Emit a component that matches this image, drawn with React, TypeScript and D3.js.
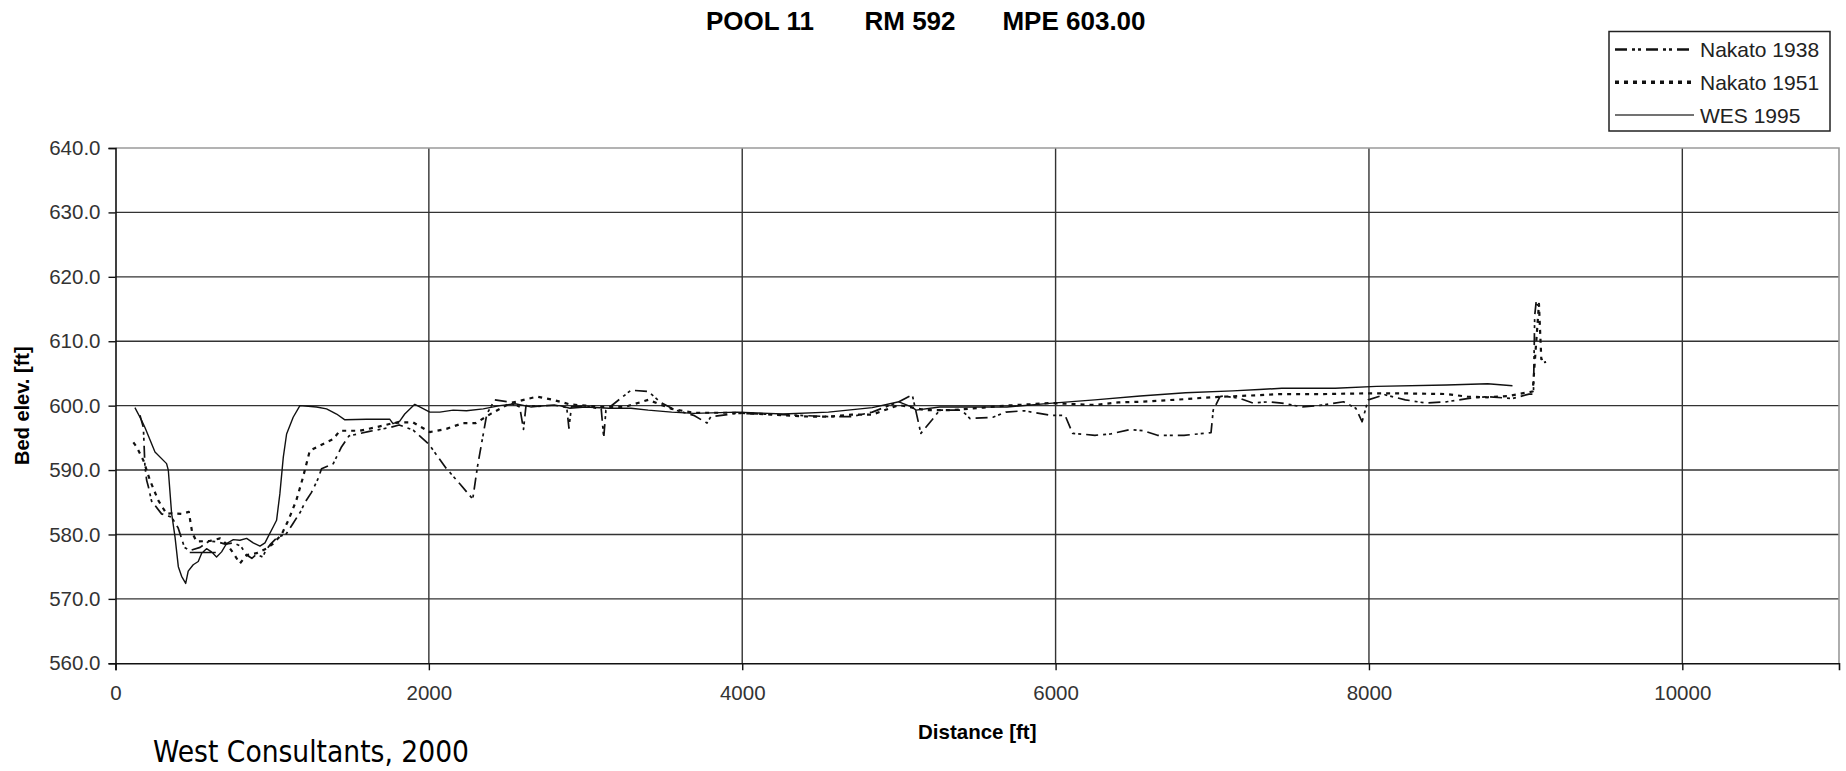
import React, { useEffect, useRef } from "react";
import * as d3 from "d3";

// distance [ft], bed elevation [ft]
const nakato1938: ([number, number] | null)[] = [
  [156, 598.5], [178, 596.6], [188, 590.5], [199, 588.4], [209, 587.5], [230, 585.2], [294, 583.2],
  [358, 582.7], [400, 581.0], [440, 578.0], [475, 577.5], [540, 578.0], [600, 579.0], [660, 578.8],
  [700, 578.5], [750, 578.7], [800, 578.2], [837, 576.8], [870, 576.3], [900, 576.9], [940, 576.5],
  [960, 577.6], [990, 578.5], [1030, 579.5], [1090, 580.1], [1130, 581.6], [1180, 583.5], [1210, 585.0],
  [1250, 586.5], [1290, 588.5], [1315, 590.2], [1390, 591.0], [1440, 593.5], [1490, 595.3], [1620, 596.0],
  [1750, 596.6], [1810, 597.0], [1900, 596.2], [2000, 594.0], [2110, 590.3], [2200, 587.8], [2280, 585.5],
  [2310, 590.5], [2370, 598.7], [2420, 600.9], [2500, 600.6], [2580, 599.8], [2604, 596.3], [2620, 600.0],
  [2700, 599.9], [2800, 600.1], [2880, 599.7], [2894, 596.5], [2910, 599.8], [3000, 599.9], [3100, 599.5],
  [3116, 595.0], [3130, 599.3], [3290, 602.4], [3400, 602.2], [3480, 600.5], [3575, 599.3], [3690, 598.5],
  [3775, 597.3], [3800, 598.3], [3970, 598.8], [4260, 598.6], [4550, 598.3], [4700, 598.3], [4830, 599.0],
  [5000, 600.6], [5085, 601.7], [5140, 595.7], [5212, 597.8], [5260, 599.3], [5400, 599.3], [5454, 598.0],
  [5600, 598.2], [5682, 599.0], [5800, 599.2], [5966, 598.5], [6060, 598.5], [6109, 595.7], [6251, 595.4],
  [6350, 595.6], [6479, 596.3], [6560, 596.1], [6650, 595.4], [6820, 595.4], [6992, 595.8], [7006, 599.3],
  [7049, 601.4], [7075, 601.5], [7180, 601.1], [7259, 600.4], [7364, 600.6], [7443, 600.4], [7575, 599.8],
  [7706, 600.1], [7838, 600.6], [7916, 599.6], [7956, 597.5], [7995, 600.9], [8100, 601.7], [8232, 600.9],
  [8364, 600.4], [8495, 600.6], [8627, 601.1], [8758, 601.4], [8916, 601.1], [9021, 601.8], [9050, 601.8],
  [9058, 614.0], [9068, 616.3], [9078, 615.5],
];

const nakato1951: ([number, number] | null)[] = [
  [114, 594.3], [135, 593.6], [178, 591.5], [220, 588.4], [273, 585.3], [326, 583.2], [360, 583.3],
  [420, 583.2], [468, 583.5], [490, 580.2], [518, 578.9], [603, 579.0], [667, 579.4], [710, 578.5],
  [752, 577.1], [794, 575.5], [837, 576.8], [901, 577.1], [964, 577.8], [1007, 578.6], [1060, 580.0],
  [1103, 582.2], [1154, 585.3], [1197, 588.9], [1240, 593.0], [1304, 593.8], [1389, 594.8], [1432, 596.1],
  [1559, 596.1], [1708, 596.9], [1771, 597.3], [1835, 597.4], [1899, 597.4], [2006, 595.9], [2112, 596.4],
  [2219, 597.3], [2300, 597.3], [2400, 598.8], [2520, 600.4], [2690, 601.4], [2793, 600.9], [2900, 600.2],
  [3000, 600.0], [3100, 599.8], [3250, 599.8], [3400, 600.9], [3550, 599.5], [3690, 598.9], [3970, 598.9],
  [4260, 598.5], [4430, 598.3], [4550, 598.3], [4700, 598.6], [4830, 598.6], [5000, 600.1], [5170, 599.3],
  [5340, 599.3], [5540, 599.7], [5680, 600.0], [5970, 600.4], [6250, 600.1], [6400, 600.5], [6540, 600.6],
  [6820, 601.0], [6990, 601.3], [7180, 601.5], [7443, 601.8], [7700, 601.8], [7970, 601.9], [8230, 601.9],
  [8495, 601.8], [8627, 601.4], [8758, 601.3], [8890, 601.5], [9000, 602.0], [9045, 602.2], [9085, 615.8],
  [9100, 607.2], [9118, 607.4], [9125, 606.6],
];

const wes1995: ([number, number] | null)[] = [
  [124, 599.7], [167, 597.7], [188, 596.6], [252, 592.8], [326, 591.0], [337, 590.0], [358, 583.3],
  [380, 579.6], [401, 575.0], [422, 573.5], [448, 572.4], [464, 574.3], [496, 575.3], [528, 575.8],
  [550, 577.1], [581, 577.8], [613, 577.3], [645, 576.5], [677, 577.3], [709, 578.6], [752, 579.2],
  [794, 579.1], [837, 579.4], [879, 578.7], [922, 578.2], [954, 578.7], [975, 579.7], [1007, 581.2],
  [1028, 582.2], [1049, 586.3], [1071, 592.0], [1092, 595.6], [1134, 598.2], [1177, 600.0], [1283, 599.8],
  [1347, 599.5], [1411, 598.7], [1464, 597.8], [1602, 597.9], [1750, 597.9], [1771, 597.2], [1814, 597.6],
  [1846, 598.7], [1910, 600.2], [1942, 599.8], [2006, 599.0], [2070, 599.0], [2155, 599.3], [2240, 599.2],
  [2347, 599.5], [2453, 600.0], [2550, 600.3], [2650, 599.8], [2750, 600.0], [2835, 600.0], [2900, 599.6],
  [3000, 599.8], [3150, 599.6], [3290, 599.6], [3400, 599.3], [3550, 599.0], [3690, 598.8], [3970, 599.0],
  [4260, 598.7], [4550, 599.0], [4830, 599.7], [5000, 600.6], [5080, 599.8], [5110, 599.3], [5260, 599.8],
  [5690, 599.8], [5980, 600.4], [6250, 600.9], [6540, 601.5], [6830, 602.0], [7130, 602.3], [7300, 602.5],
  [7443, 602.7], [7785, 602.7], [8048, 603.0], [8495, 603.2], [8758, 603.4], [8916, 603.1],
  null, [474, 577.2], [640, 577.2],
];

const seriesNames = ["Nakato 1938", "Nakato 1951", "WES 1995"];
const titleParts = ["POOL 11", "RM 592", "MPE 603.00"];
const xTicks = [0, 2000, 4000, 6000, 8000, 10000];
const yTicks = [560, 570, 580, 590, 600, 610, 620, 630, 640];

const lineStyle: Record<string, { dash: string; width: number; legendWidth: number }> = {
  "Nakato 1938": { dash: "12,5,3,3,3,5", width: 1.7, legendWidth: 2.6 },
  "Nakato 1951": { dash: "4,5", width: 2.2, legendWidth: 3.5 },
  "WES 1995": { dash: "none", width: 1.4, legendWidth: 1.6 },
};

const W = 1846;
const H = 771;
const plot = { left: 115.5, right: 1839, top: 148, bottom: 663.3 };

const App = () => {
  const ref = useRef<SVGSVGElement>(null);

  useEffect(() => {
    const svg = d3.select(ref.current);
    svg.selectAll("*").remove();

    const font = "'Liberation Sans', Arial, sans-serif";

    const xscale = d3.scaleLinear().domain([0, 11000]).range([plot.left, plot.right]);
    const yscale = d3.scaleLinear().domain([560, 640]).range([plot.bottom, plot.top]);

    svg.append("rect").attr("width", W).attr("height", H).attr("fill", "#fff");

    // title, three centred pieces
    const titleCenter: Record<string, number> = { "POOL 11": 760, "RM 592": 910, "MPE 603.00": 1074 };
    svg.selectAll("text.title")
      .data(titleParts)
      .join("text")
      .attr("class", "title")
      .attr("x", (d) => titleCenter[d])
      .attr("y", 30)
      .attr("text-anchor", "middle")
      .attr("font-family", font)
      .attr("font-weight", "bold")
      .attr("font-size", 26)
      .text((d) => d);

    // grid
    const g = svg.append("g");
    g.selectAll("line.hgrid")
      .data(yTicks.filter((t) => t > 560 && t < 640))
      .join("line")
      .attr("x1", plot.left).attr("x2", plot.right)
      .attr("y1", (d) => yscale(d)).attr("y2", (d) => yscale(d))
      .attr("stroke", "#333").attr("stroke-width", 1.4);
    g.selectAll("line.vgrid")
      .data(xTicks.filter((t) => t > 0))
      .join("line")
      .attr("y1", plot.top).attr("y2", plot.bottom)
      .attr("x1", (d) => xscale(d)).attr("x2", (d) => xscale(d))
      .attr("stroke", "#333").attr("stroke-width", 1.4);

    // plot frame: top and right lighter
    g.append("path")
      .attr("d", `M${plot.left},${plot.top}H${plot.right}V${plot.bottom}`)
      .attr("fill", "none").attr("stroke", "#9a9a9a").attr("stroke-width", 1.6);

    // axes
    const yaxis = d3.axisLeft(yscale).tickValues(yTicks).tickSize(7).tickFormat(d3.format(".1f"));
    const g_yaxis = svg.append("g").attr("transform", `translate(${plot.left},0)`).call(yaxis);
    const xaxis = d3.axisBottom(xscale).tickValues(xTicks).tickSize(7).tickFormat(d3.format("d"));
    const g_xaxis = svg.append("g").attr("transform", `translate(0,${plot.bottom})`).call(xaxis);
    [g_yaxis, g_xaxis].forEach((ax) => {
      ax.select(".domain").attr("stroke", "#111").attr("stroke-width", 1.6);
      ax.selectAll(".tick line").attr("stroke", "#111").attr("stroke-width", 1.4);
      ax.selectAll(".tick text")
        .attr("font-family", font)
        .attr("font-size", 20.5)
        .attr("fill", "#333");
    });
    g_yaxis.selectAll(".tick text").attr("x", -15);
    g_xaxis.selectAll(".tick text").attr("y", 22);

    // axis titles
    svg.append("text")
      .attr("transform", `translate(29,${(plot.top + plot.bottom) / 2}) rotate(-90)`)
      .attr("text-anchor", "middle")
      .attr("font-family", font).attr("font-weight", "bold").attr("font-size", 20)
      .text("Bed elev. [ft]");
    svg.append("text")
      .attr("x", (plot.left + plot.right) / 2).attr("y", 739)
      .attr("text-anchor", "middle")
      .attr("font-family", font).attr("font-weight", "bold").attr("font-size", 20.5)
      .text("Distance [ft]");

    // series
    const dataByName: Record<string, ([number, number] | null)[]> = {
      "Nakato 1938": nakato1938,
      "Nakato 1951": nakato1951,
      "WES 1995": wes1995,
    };
    const line = d3.line<[number, number] | null>()
      .defined((d) => d != null)
      .x((d) => xscale(d![0]))
      .y((d) => yscale(d![1]));

    svg.append("g")
      .selectAll("path")
      .data(seriesNames)
      .join("path")
      .attr("d", (name) => line(dataByName[name]))
      .attr("fill", "none")
      .attr("stroke", "#111")
      .attr("stroke-width", (name) => lineStyle[name].width)
      .attr("stroke-dasharray", (name) => lineStyle[name].dash)
      .attr("stroke-linejoin", "round");

    // legend
    const lg = svg.append("g");
    lg.append("rect")
      .attr("x", 1609).attr("y", 31.5).attr("width", 221).attr("height", 99.5)
      .attr("fill", "#fff").attr("stroke", "#222").attr("stroke-width", 1.5);
    const rowY = d3.scalePoint().domain(seriesNames).range([49.5, 115]);
    const rows = lg.selectAll("g.row").data(seriesNames).join("g").attr("class", "row");
    rows.append("line")
      .attr("x1", 1615).attr("x2", 1694)
      .attr("y1", (d) => rowY(d)!).attr("y2", (d) => rowY(d)!)
      .attr("stroke", (d) => (d === "WES 1995" ? "#444" : "#111"))
      .attr("stroke-width", (d) => lineStyle[d].legendWidth)
      .attr("stroke-dasharray", (d) => lineStyle[d].dash);
    rows.append("text")
      .attr("x", 1700).attr("y", (d) => rowY(d)! + 7.5)
      .attr("font-family", font).attr("font-size", 21).attr("fill", "#222")
      .text((d) => d);

    // source note
    svg.append("text")
      .attr("x", 153).attr("y", 762)
      .attr("font-family", "'DejaVu Sans', Lato, sans-serif")
      .attr("font-size", 30)
      .attr("textLength", 316)
      .attr("lengthAdjust", "spacingAndGlyphs")
      .text("West Consultants, 2000");
  }, []);

  return (
    <svg
      ref={ref}
      width={W}
      height={H}
      style={{ position: "absolute", left: 0, top: 0, display: "block" }}
    />
  );
};

export default App;
